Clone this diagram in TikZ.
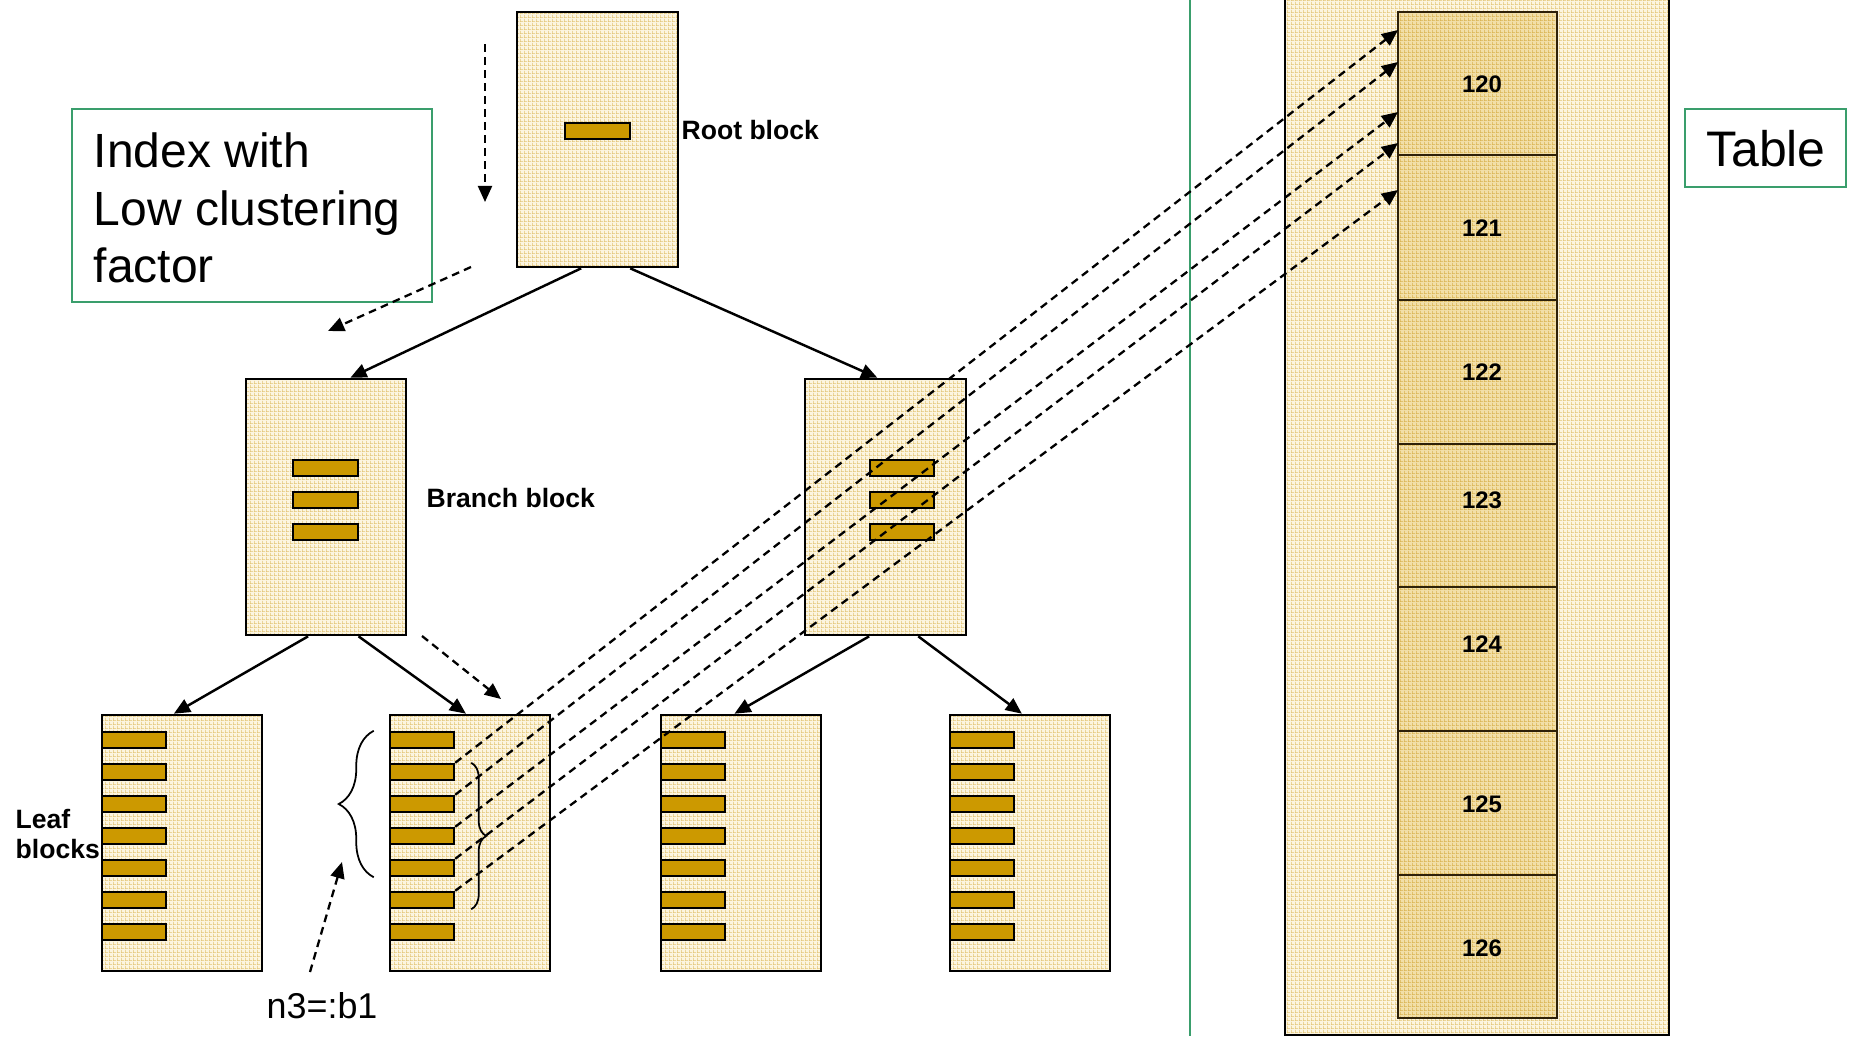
\documentclass[tikz,border=0pt]{standalone}
\usepackage{fontspec}
\setmainfont{Liberation Sans}
\usetikzlibrary{arrows.meta,fit,calc,decorations.pathreplacing,patterns.meta}

\definecolor{blockbase}{HTML}{FCF5E0}
\definecolor{blockweave}{HTML}{E2C474}
\definecolor{cellbase}{HTML}{F2DFA8}
\definecolor{cellweave}{HTML}{D9B24E}
\definecolor{keyfill}{HTML}{CC9900}
\definecolor{framegreen}{HTML}{3A9E6C}
\definecolor{celledge}{HTML}{2E2108}

% fine woven texture used inside the blocks
\pgfdeclarepattern{
  name=weave,
  type=uncolored,
  bottom left={\pgfpoint{0pt}{0pt}},
  top right={\pgfpoint{1pt}{1pt}},
  tile size={\pgfpoint{1pt}{1pt}},
  code={
    \pgfpathrectangle{\pgfpoint{0pt}{0pt}}{\pgfpoint{0.22pt}{1pt}}
    \pgfpathrectangle{\pgfpoint{0pt}{0pt}}{\pgfpoint{1pt}{0.22pt}}
    \pgfusepath{fill}
  }
}

\tikzset{
  blockbox/.style={draw=black, line width=0.75pt, preaction={fill=blockbase},
    pattern=weave, pattern color=blockweave, inner sep=0pt},
  keybar/.style={draw=black, line width=0.7pt, fill=keyfill, inner sep=0pt},
  cellbox/.style={draw=celledge, line width=0.6pt, preaction={fill=cellbase},
    pattern=weave, pattern color=cellweave, inner sep=0pt},
  notebox/.style={draw=framegreen, line width=0.6pt, inner sep=0pt},
  tipend/.style={-{Triangle[length=4.6pt,width=4pt]}},
  link/.style={tipend, line width=0.7pt},
  hint/.style={tipend, line width=0.65pt, dash pattern=on 2.2pt off 1.5pt},
  lbl/.style={font=\fontsize{7.55}{9}\selectfont\bfseries, inner sep=0pt},
  num/.style={font=\fontsize{6.8}{8}\selectfont\bfseries, inner sep=0pt},
  big/.style={font=\fontsize{13.65}{16}\selectfont, inner sep=0pt},
  mid/.style={font=\fontsize{10.2}{12}\selectfont, inner sep=0pt},
  bracemark/.style={decorate, line width=0.5pt},
}

\begin{document}
\begin{tikzpicture}[x=0.01cm, y=-0.01cm]
\useasboundingbox (0,0) rectangle (1852,1036);
\fill[white] (0,0) rectangle (1852,1036);
\clip (0,0) rectangle (1852,1036);

% ---------- table (heap) on the right ----------
\node[blockbox, line width=0.8pt, fit={(1285,-10)(1669,1035)}] (tbl) {};
\foreach \i/\t/\b/\ly in {120/12/155/84, 121/155/300/228, 122/300/444/372,
                          123/444/587/500, 124/587/731/644, 125/731/875/804,
                          126/875/1018/948} {
  \node[cellbox, fit={(1398,\t)(1557,\b)}] (c\i) {};
  \node[num] (n\i) at (1482,\ly) {\i};
}
\node[notebox, fit={(1685,109)(1846,187)}] (tblbox) {};
\node[big, font=\fontsize{14.2}{16}\selectfont, anchor=base] (tbllbl) at (1766,166) {Table};

% divider between index and table
\coordinate (divtop) at (1190,0);
\coordinate (divbot) at (1190,1036);
\draw[framegreen, line width=0.65pt] (divtop) -- (divbot);

% ---------- index tree ----------
\node[blockbox, fit={(517,12)(678,267)}] (root) {};
\node[keybar, fit={(565,123)(630,139)}] (rootkey) {};

\node[blockbox, fit={(246,379)(406,635)}] (branchL) {};
\node[blockbox, fit={(805,379)(966,635)}] (branchR) {};
\foreach \k in {1,2,3} {
  \node[keybar, fit={(293,428+32*\k)(358,444+32*\k)}] (bLk\k) {};
  \node[keybar, fit={(870,428+32*\k)(934,444+32*\k)}] (bRk\k) {};
}

\foreach \b/\x in {1/102, 2/390, 3/661, 4/950} {
  \node[blockbox, fit={(\x,715)(\x+160,971)}] (leaf\b) {};
  \foreach \k in {1,...,7} {
    \node[keybar, fit={(\x,700+32*\k)(\x+64,716+32*\k)}] (leaf\b k\k) {};
  }
}

% tree connectors
\draw[link] ($(root.south west)!0.40!(root.south east)$) -- ($(branchL.north west)!0.65!(branchL.north east)$);
\draw[link] ($(root.south west)!0.70!(root.south east)$) -- ($(branchR.north west)!0.45!(branchR.north east)$);
\draw[link] ($(branchL.south west)!0.39!(branchL.south east)$) -- ($(leaf1.north west)!0.45!(leaf1.north east)$);
\draw[link] ($(branchL.south west)!0.70!(branchL.south east)$) -- ($(leaf2.north west)!0.475!(leaf2.north east)$);
\draw[link] ($(branchR.south west)!0.40!(branchR.south east)$) -- ($(leaf3.north west)!0.46!(leaf3.north east)$);
\draw[link] ($(branchR.south west)!0.70!(branchR.south east)$) -- ($(leaf4.north west)!0.45!(leaf4.north east)$);

% ---------- labels ----------
\node[lbl, anchor=base west] (rootlbl) at (681,139) {Root block};
\node[lbl, anchor=base west] (branchlbl) at (426,507) {Branch block};
\node[lbl, anchor=base west] (leaflbla) at (15,828) {Leaf};
\node[lbl, anchor=base west] (leaflblb) at (15,858) {blocks};

\node[notebox, fit={(72,109)(432,302)}] (idxbox) {};
\node[big, anchor=base west] (idxa) at (93,167) {Index with};
\node[big, anchor=base west] (idxb) at (93,225) {Low clustering};
\node[big, anchor=base west] (idxc) at (93,282) {factor};

\node[mid, anchor=base west] (n3lbl) at (266,1018) {n3=:b1};

% ---------- search path hints ----------
\coordinate (h1s) at (485,44);  \coordinate (h1e) at (485,202);
\coordinate (h2s) at (471,267); \coordinate (h2e) at (328,331);
\coordinate (h3s) at (422,636); \coordinate (h3e) at (501,699);
\coordinate (h4s) at (310,972); \coordinate (h4e) at (342,862);
\draw[hint] (h1s) -- (h1e);
\draw[hint] (h2s) -- (h2e);
\draw[hint] (h3s) -- (h3e);
\draw[hint] (h4s) -- (h4e);

% ---------- braces over the leaf entries ----------
\draw[bracemark, decoration={brace, amplitude=0.35cm}]
  ($(leaf2k5.south west)+(-15,0)$) -- ($(leaf2k1.north west)+(-15,0)$);
\draw[bracemark, decoration={brace, amplitude=0.15cm}]
  ($(leaf2k2.north east)+(16,0)$) -- ($(leaf2k6.south east)+(16,0)$);

% ---------- rowid pointers into the table ----------
\coordinate (p1) at (1398,30);
\coordinate (p2) at (1398,62);
\coordinate (p3) at (1398,112);
\coordinate (p4) at (1398,143);
\coordinate (p5) at (1398,190);
\draw[hint] (leaf2k2.north east) -- (p1);
\draw[hint] (leaf2k3.north east) -- (p2);
\draw[hint] (leaf2k4.north east) -- (p3);
\draw[hint] (leaf2k5.north east) -- (p4);
\draw[hint] (leaf2k6.north east) -- (p5);
\end{tikzpicture}
\end{document}
